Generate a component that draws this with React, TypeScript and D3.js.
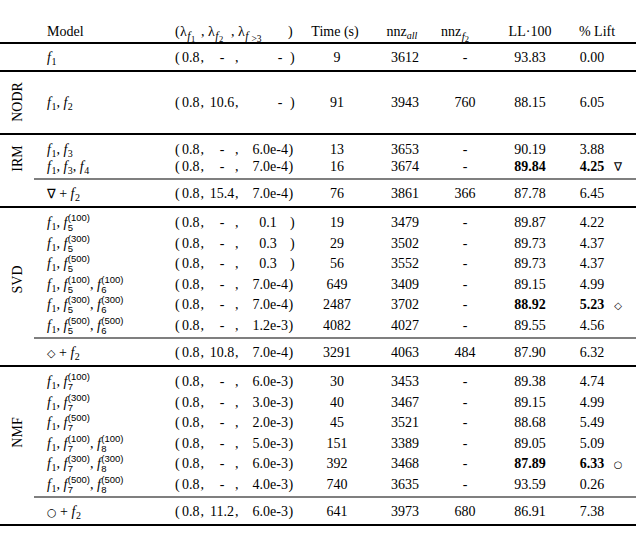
import React from 'react';
import * as d3 from 'd3';

// table contents
const models = [
  'f1', 'f1,f2', 'f1,f3', 'f1,f3,f4', '∇+f2',
  'f1,f5^100', 'f1,f5^300', 'f1,f5^500', 'f1,f5^100,f6^100', 'f1,f5^300,f6^300', 'f1,f5^500,f6^500', '◇+f2',
  'f1,f7^100', 'f1,f7^300', 'f1,f7^500', 'f1,f7^100,f8^100', 'f1,f7^300,f8^300', 'f1,f7^500,f8^500', '○+f2',
];
const lambda1 = ['0.8', '0.8', '0.8', '0.8', '0.8', '0.8', '0.8', '0.8', '0.8', '0.8', '0.8', '0.8', '0.8', '0.8', '0.8', '0.8', '0.8', '0.8', '0.8'];
const lambda2 = ['-', '10.6', '-', '-', '15.4', '-', '-', '-', '-', '-', '-', '10.8', '-', '-', '-', '-', '-', '-', '11.2'];
const lambda3 = ['-', '-', '6.0e-4', '7.0e-4', '7.0e-4', '0.1', '0.3', '0.3', '7.0e-4', '7.0e-4', '1.2e-3', '7.0e-4', '6.0e-3', '3.0e-3', '2.0e-3', '5.0e-3', '6.0e-3', '4.0e-3', '6.0e-3'];
const times = ['9', '91', '13', '16', '76', '19', '29', '56', '649', '2487', '4082', '3291', '30', '40', '45', '151', '392', '740', '641'];
const nnzAll = ['3612', '3943', '3653', '3674', '3861', '3479', '3502', '3552', '3409', '3702', '4027', '4063', '3453', '3467', '3521', '3389', '3468', '3635', '3973'];
const nnzF2 = ['-', '760', '-', '-', '366', '-', '-', '-', '-', '-', '-', '484', '-', '-', '-', '-', '-', '-', '680'];
const ll = ['93.83', '88.15', '90.19', '89.84', '87.78', '89.87', '89.73', '89.73', '89.15', '88.92', '89.55', '87.90', '89.38', '89.15', '88.68', '89.05', '87.89', '93.59', '86.91'];
const lift = ['0.00', '6.05', '3.88', '4.25', '6.45', '4.22', '4.37', '4.37', '4.99', '5.23', '4.56', '6.32', '4.74', '4.99', '5.49', '5.09', '6.33', '0.26', '7.38'];
const best = [3, 9, 16];
const markers = ['∇', '◇', '○'];

const SERIF = "'Liberation Serif', 'DejaVu Serif', serif";
const SANS = "'Liberation Sans', 'DejaVu Sans', sans-serif";
const SYM = "'DejaVu Sans', sans-serif";
const FS = 14;

type Piece = { t: string; rise?: number; size?: number; italic?: boolean; family?: string; dx?: number };

function spans(pieces: Piece[]) {
  let prev = 0;
  return pieces.map((p, i) => {
    const r = p.rise || 0;
    const dy = r - prev;
    prev = r;
    return (
      <tspan key={i} dy={dy || undefined} dx={p.dx} fontSize={p.size} fontStyle={p.italic ? 'italic' : undefined} fontFamily={p.family}>
        {p.t}
      </tspan>
    );
  });
}

function fPieces(tok: string): Piece[] {
  const [base, sup] = tok.split('^');
  const idx = base.slice(1);
  const out: Piece[] = [{ t: 'f', italic: true }];
  if (sup) {
    out.push({ t: idx, rise: 4, size: 9.5, family: SANS, dx: 0.5 });
    out.push({ t: `(${sup})`, rise: -6, size: 9.5, family: SANS, dx: -5.3 });
  } else {
    out.push({ t: idx, rise: 3, size: 10, dx: 0.5 });
  }
  return out;
}

function modelPieces(m: string): Piece[] {
  if (m.includes('+')) {
    const [sym, rest] = m.split('+');
    return [
      { t: sym, size: sym === '∇' ? 13 : 11, family: SYM },
      { t: ' + ' },
      ...fPieces(rest),
    ];
  }
  const out: Piece[] = [];
  m.split(',').forEach((tok, i) => {
    if (i > 0) out.push({ t: ', ' });
    out.push(...fPieces(tok));
  });
  return out;
}

// vertical layout
const supPitch = 20.6;
const rowY: number[] = [];
const thick: number[] = [43];
const thin: number[] = [];
{
  let line = 43;
  rowY[0] = line + 14; line = rowY[0] + 14; thick.push(line);
  rowY[1] = line + 31; line = rowY[1] + 32; thick.push(line);
  const sections = [
    { rows: [2, 3], pitch: 17, combo: 4 },
    { rows: d3.range(5, 11), pitch: supPitch, combo: 11 },
    { rows: d3.range(12, 18), pitch: supPitch, combo: 18 },
  ];
  sections.forEach(s => {
    s.rows.forEach((r, k) => { rowY[r] = line + 15 + k * s.pitch; });
    const t = rowY[s.rows[s.rows.length - 1]] + 13;
    thin.push(t);
    rowY[s.combo] = t + 14;
    line = rowY[s.combo] + 14;
    thick.push(line);
  });
}
const labelRows = [
  { name: 'NODR', rows: [1], shift: 0 },
  { name: 'IRM', rows: [2, 3], shift: 1 },
  { name: 'SVD', rows: d3.range(5, 11), shift: 6 },
  { name: 'NMF', rows: d3.range(12, 18), shift: 0 },
];

const col = { model: 47, time: 337, nnzAll: 405, nnzF2: 465, ll: 530, lift: 592, mark: 618 };
const base = 5;

export default function App() {
  return (
    <svg width={640} height={547} style={{ position: 'absolute', left: 0, top: 0, background: '#fff' }} fontFamily={SERIF} fontSize={FS} fill="#000">
      {/* header */}
      <g transform={`translate(0,${31 + base})`}>
        <text x={col.model}>Model</text>
        <text x={175}>(</text>
        {[180, 208, 238].map((x, k) => (
          <text key={k} x={x}>
            {spans([
              { t: 'λ' },
              { t: 'f', rise: 3.5, size: 11.5, italic: true, dx: 0.5 },
              { t: k < 2 ? String(k + 1) : '>3', rise: 5.5, size: k < 2 ? 8.5 : 9.5, dx: k < 2 ? 0.5 : 3 },
            ])}
          </text>
        ))}
        <text x={201}>,</text>
        <text x={231}>,</text>
        <text x={288}>)</text>
        <text x={335} textAnchor="middle">Time (s)</text>
        <text x={402} textAnchor="middle">
          {spans([{ t: 'nnz' }, { t: 'all', rise: 3, size: 10, italic: true }])}
        </text>
        <text x={455} textAnchor="middle">
          {spans([{ t: 'nnz' }, { t: 'f', rise: 3.5, size: 11, italic: true, dx: 0.5 }, { t: '2', rise: 5.5, size: 8.5 }])}
        </text>
        <text x={530} textAnchor="middle">LL·100</text>
        <text x={597} textAnchor="middle">% Lift</text>
      </g>

      {/* rules */}
      {thick.map((y, i) => <line key={'k' + i} x1={0} x2={636} y1={y} y2={y} stroke="#000" strokeWidth={2} />)}
      {thin.map((y, i) => <line key={'n' + i} x1={34} x2={636} y1={y} y2={y} stroke="#000" strokeWidth={1.2} />)}

      {/* group labels */}
      {labelRows.map(g => {
        const cy = (d3.mean(g.rows, r => rowY[r]) as number) + g.shift;
        return (
          <text key={g.name} transform={`translate(17,${cy}) rotate(-90)`} textAnchor="middle" dy="0.35em">{g.name}</text>
        );
      })}

      {/* body */}
      {models.map((m, i) => {
        const y = rowY[i] + base;
        const bi = best.indexOf(i);
        const l3 = lambda3[i];
        const sci = l3.includes('e');
        return (
          <g key={i}>
            <text x={col.model} y={y}>{spans(modelPieces(m))}</text>
            <text x={175} y={y}>(</text>
            <text x={182} y={y}>{lambda1[i]}</text>
            <text x={200.5} y={y}>,</text>
            <text x={222} y={y} textAnchor="middle">{lambda2[i]}</text>
            <text x={235} y={y}>,</text>
            {sci
              ? <text x={288} y={y} textAnchor="end">{l3}</text>
              : <text x={l3 === '-' ? 280 : 268} y={y} textAnchor="middle">{l3}</text>}
            <text x={sci ? 288.5 : 290} y={y}>)</text>
            <text x={col.time} y={y} textAnchor="middle">{times[i]}</text>
            <text x={col.nnzAll} y={y} textAnchor="middle">{nnzAll[i]}</text>
            <text x={col.nnzF2} y={y} textAnchor="middle">{nnzF2[i]}</text>
            <text x={col.ll} y={y} textAnchor="middle" fontWeight={bi >= 0 ? 'bold' : undefined}>{ll[i]}</text>
            <text x={col.lift} y={y} textAnchor="middle" fontWeight={bi >= 0 ? 'bold' : undefined}>{lift[i]}</text>
            {bi >= 0 && (
              <text x={col.mark} y={y} textAnchor="middle" fontFamily={SYM} fontSize={bi === 0 ? 12 : 10}>{markers[bi]}</text>
            )}
          </g>
        );
      })}
    </svg>
  );
}
